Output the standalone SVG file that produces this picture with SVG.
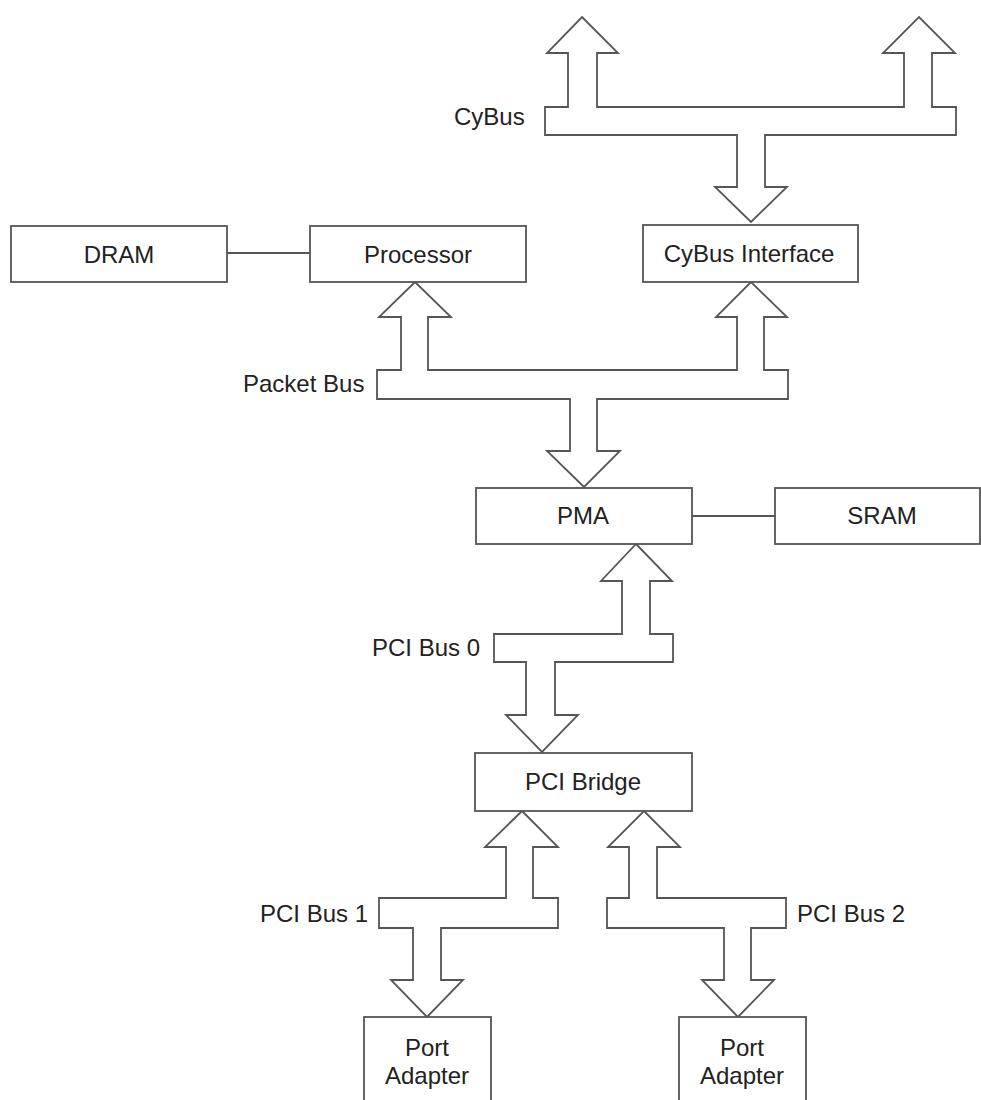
<svg xmlns="http://www.w3.org/2000/svg" width="981" height="1100" viewBox="0 0 981 1100">
<style>
.box{fill:#fff;stroke:#555;stroke-width:1.8}
.bus{fill:#fff;stroke:#555;stroke-width:1.8;stroke-linejoin:miter}
.ln{stroke:#555;stroke-width:1.8;fill:none}
text{font-family:"Liberation Sans",Arial,Helvetica,sans-serif;font-size:24px;fill:#222}
.c{text-anchor:middle}
</style>
<rect width="981" height="1100" fill="#fff"/>
<g id="connectors">
<polygon id="cybus" class="bus" points="582,17 618,53 597,53 597,107 904,107 904,53 883,53 919,17 955,53 932,53 932,107 956,107 956,135 765,135 765,187 787,187 751,222 715,187 737,187 737,135 545,135 545,107 568,107 568,53 547,53"/>
<polygon id="packetbus" class="bus" points="415,282 451,317 428,317 428,370 737,370 737,317 716,317 751,282 787,317 764,317 764,370 788,370 788,399 597,399 597,451 620,451 584,487 547,451 570,451 570,399 377,399 377,370 401,370 401,317 379,317"/>
<polygon id="pcibus0" class="bus" points="636,544 672,581 650,581 650,634 673,634 673,662 555,662 555,715 578,715 542,752 506,715 526,715 526,662 494,662 494,634 622,634 622,581 601,581"/>
<polygon id="pcibus1" class="bus" points="522,811 558,847 533,847 533,898 558,898 558,928 441,928 441,980 463,980 427,1017 391,980 413,980 413,928 379,928 379,898 506,898 506,847 485,847"/>
<polygon id="pcibus2" class="bus" points="644,811 680,847 657,847 657,898 786,898 786,928 751,928 751,980 774,980 738,1017 702,980 724,980 724,928 607,928 607,898 629,898 629,847 608,847"/>
<line class="ln" x1="227" y1="253" x2="310" y2="253"/>
<line class="ln" x1="692" y1="516" x2="775" y2="516"/>
<text x="454" y="125">CyBus</text>
<text x="243" y="392">Packet Bus</text>
<text x="372" y="656">PCI Bus 0</text>
<text x="368" y="922" text-anchor="end">PCI Bus 1</text>
<text x="797" y="922">PCI Bus 2</text>
</g>
<g id="dram"><rect class="box" x="11" y="226" width="216" height="56"/><text class="c" x="119" y="263">DRAM</text></g>
<g id="processor"><rect class="box" x="310" y="226" width="216" height="56"/><text class="c" x="418" y="263">Processor</text></g>
<g id="cybus-interface"><rect class="box" x="643" y="225" width="215" height="57"/><text class="c" x="749" y="262">CyBus Interface</text></g>
<g id="pma"><rect class="box" x="476" y="488" width="216" height="56"/><text class="c" x="583" y="524">PMA</text></g>
<g id="sram"><rect class="box" x="775" y="488" width="205" height="56"/><text class="c" x="882" y="524">SRAM</text></g>
<g id="pci-bridge"><rect class="box" x="475" y="753" width="217" height="58"/><text class="c" x="583" y="790">PCI Bridge</text></g>
<g id="port-adapter-1"><rect class="box" x="364" y="1017" width="127" height="100"/><text class="c" x="427" y="1056">Port</text><text class="c" x="427" y="1084">Adapter</text></g>
<g id="port-adapter-2"><rect class="box" x="679" y="1017" width="127" height="100"/><text class="c" x="742" y="1056">Port</text><text class="c" x="742" y="1084">Adapter</text></g>
</svg>
